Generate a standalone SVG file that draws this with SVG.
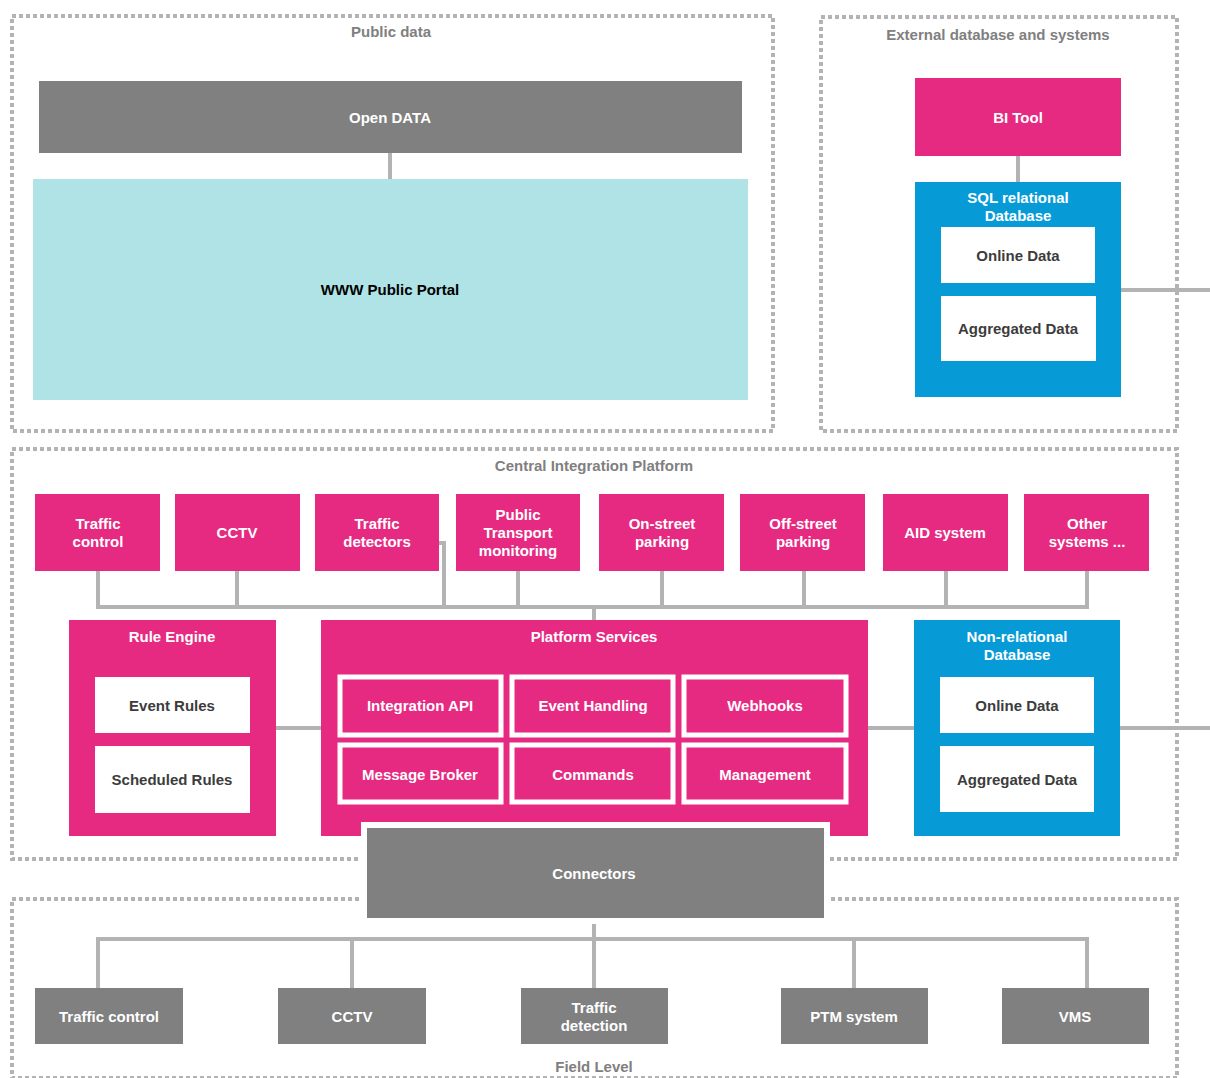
<svg xmlns="http://www.w3.org/2000/svg" width="1210" height="1078" viewBox="0 0 1210 1078">
<style>
text{font-family:"Liberation Sans",Arial,sans-serif;font-weight:bold;font-size:15px;text-anchor:middle}
.zone{fill:none;stroke:#b3b3b3;stroke-width:4;stroke-dasharray:4 3}
.zt{fill:#808080}
.pink{fill:#e62a81}
.blue{fill:#069bd7}
.gray{fill:#808080}
.white{fill:#ffffff}
.w{fill:#ffffff}
.d{fill:#3c3c3c}
.k{fill:#000000}
.svc{fill:#e62a81;stroke:#ffffff;stroke-width:5}
.ln{fill:none;stroke:#b3b3b3;stroke-width:4}
</style>
<rect width="1210" height="1078" fill="#ffffff"/>
<g id="zones">
<rect class="zone" x="12" y="16" width="761" height="415"/>
<rect class="zone" x="821" y="17" width="356" height="414"/>
<rect class="zone" x="12" y="449" width="1165" height="410"/>
<rect class="zone" x="12" y="899" width="1165" height="179"/>
<text class="zt" x="391" y="37">Public data</text>
<text class="zt" x="998" y="40">External database and systems</text>
<text class="zt" x="594" y="471">Central Integration Platform</text>
<text class="zt" x="594" y="1072">Field Level</text>
</g>
<g id="connectors">
<line class="ln" x1="390" y1="153" x2="390" y2="179"/>
<line class="ln" x1="1018" y1="156" x2="1018" y2="182"/>
<line class="ln" x1="1121" y1="290" x2="1210" y2="290"/>
<polyline class="ln" points="98,571 98,607 1087,607 1087,571"/>
<line class="ln" x1="237" y1="571" x2="237" y2="607"/>
<polyline class="ln" points="439,543 444,543 444,607"/>
<line class="ln" x1="518" y1="571" x2="518" y2="607"/>
<line class="ln" x1="662" y1="571" x2="662" y2="607"/>
<line class="ln" x1="804" y1="571" x2="804" y2="607"/>
<line class="ln" x1="946" y1="571" x2="946" y2="607"/>
<line class="ln" x1="594" y1="607" x2="594" y2="620"/>
<line class="ln" x1="276" y1="728" x2="321" y2="728"/>
<line class="ln" x1="868" y1="728" x2="914" y2="728"/>
<line class="ln" x1="1120" y1="728" x2="1210" y2="728"/>
<polyline class="ln" points="98,988 98,939 1087,939 1087,988"/>
<line class="ln" x1="594" y1="918" x2="594" y2="988"/>
<line class="ln" x1="352" y1="939" x2="352" y2="988"/>
<line class="ln" x1="854" y1="939" x2="854" y2="988"/>
</g>
<g id="open-data"><rect class="gray" x="39" y="81" width="703" height="72"/><text class="w" x="390" y="123">Open DATA</text></g>
<g id="www-portal"><rect fill="#b0e3e6" x="33" y="179" width="715" height="221"/><text class="k" x="390" y="295">WWW Public Portal</text></g>
<g id="bi-tool"><rect class="pink" x="915" y="78" width="206" height="78"/><text class="w" x="1018" y="123">BI Tool</text></g>
<g id="sql-db"><rect class="blue" x="915" y="182" width="206" height="215"/>
<text class="w" x="1018" y="203">SQL relational</text><text class="w" x="1018" y="221">Database</text>
<rect class="white" x="941" y="227" width="154" height="56"/><text class="d" x="1018" y="261">Online Data</text>
<rect class="white" x="941" y="296" width="155" height="65"/><text class="d" x="1018" y="334">Aggregated Data</text></g>
<g id="src-traffic-control"><rect class="pink" x="35" y="494" width="125" height="77"/><text class="w" x="98" y="529">Traffic</text><text class="w" x="98" y="547">control</text></g>
<g id="src-cctv"><rect class="pink" x="175" y="494" width="125" height="77"/><text class="w" x="237" y="538">CCTV</text></g>
<g id="src-traffic-detectors"><rect class="pink" x="315" y="494" width="124" height="77"/><text class="w" x="377" y="529">Traffic</text><text class="w" x="377" y="547">detectors</text></g>
<g id="src-ptm"><rect class="pink" x="456" y="494" width="124" height="77"/><text class="w" x="518" y="520">Public</text><text class="w" x="518" y="538">Transport</text><text class="w" x="518" y="556">monitoring</text></g>
<g id="src-onstreet"><rect class="pink" x="599" y="494" width="125" height="77"/><text class="w" x="662" y="529">On-street</text><text class="w" x="662" y="547">parking</text></g>
<g id="src-offstreet"><rect class="pink" x="740" y="494" width="125" height="77"/><text class="w" x="803" y="529">Off-street</text><text class="w" x="803" y="547">parking</text></g>
<g id="src-aid"><rect class="pink" x="883" y="494" width="125" height="77"/><text class="w" x="945" y="538">AID system</text></g>
<g id="src-other"><rect class="pink" x="1024" y="494" width="125" height="77"/><text class="w" x="1087" y="529">Other</text><text class="w" x="1087" y="547">systems ...</text></g>
<g id="rule-engine"><rect class="pink" x="69" y="620" width="207" height="216"/><text class="w" x="172" y="642">Rule Engine</text>
<rect class="white" x="95" y="677" width="155" height="56"/><text class="d" x="172" y="711">Event Rules</text>
<rect class="white" x="95" y="746" width="155" height="67"/><text class="d" x="172" y="785">Scheduled Rules</text></g>
<g id="platform-services"><rect class="pink" x="321" y="620" width="547" height="216"/><text class="w" x="594" y="642">Platform Services</text>
<rect class="svc" x="340" y="677" width="161" height="58"/><text class="w" x="420" y="711">Integration API</text>
<rect class="svc" x="512" y="677" width="161" height="58"/><text class="w" x="593" y="711">Event Handling</text>
<rect class="svc" x="684" y="677" width="162" height="58"/><text class="w" x="765" y="711">Webhooks</text>
<rect class="svc" x="340" y="745" width="161" height="57"/><text class="w" x="420" y="780">Message Broker</text>
<rect class="svc" x="512" y="745" width="161" height="57"/><text class="w" x="593" y="780">Commands</text>
<rect class="svc" x="684" y="745" width="162" height="57"/><text class="w" x="765" y="780">Management</text></g>
<g id="nonrel-db"><rect class="blue" x="914" y="620" width="206" height="216"/>
<text class="w" x="1017" y="642">Non-relational</text><text class="w" x="1017" y="660">Database</text>
<rect class="white" x="940" y="677" width="154" height="56"/><text class="d" x="1017" y="711">Online Data</text>
<rect class="white" x="940" y="746" width="154" height="66"/><text class="d" x="1017" y="785">Aggregated Data</text></g>
<g id="connectors-box"><rect fill="#808080" stroke="#ffffff" stroke-width="6" x="364" y="825" width="463" height="96"/><text class="w" x="594" y="879">Connectors</text></g>
<g id="field-traffic-control"><rect class="gray" x="35" y="988" width="148" height="56"/><text class="w" x="109" y="1022">Traffic control</text></g>
<g id="field-cctv"><rect class="gray" x="278" y="988" width="148" height="56"/><text class="w" x="352" y="1022">CCTV</text></g>
<g id="field-traffic-detection"><rect class="gray" x="521" y="988" width="147" height="56"/><text class="w" x="594" y="1013">Traffic</text><text class="w" x="594" y="1031">detection</text></g>
<g id="field-ptm"><rect class="gray" x="781" y="988" width="147" height="56"/><text class="w" x="854" y="1022">PTM system</text></g>
<g id="field-vms"><rect class="gray" x="1002" y="988" width="147" height="56"/><text class="w" x="1075" y="1022">VMS</text></g>
</svg>
